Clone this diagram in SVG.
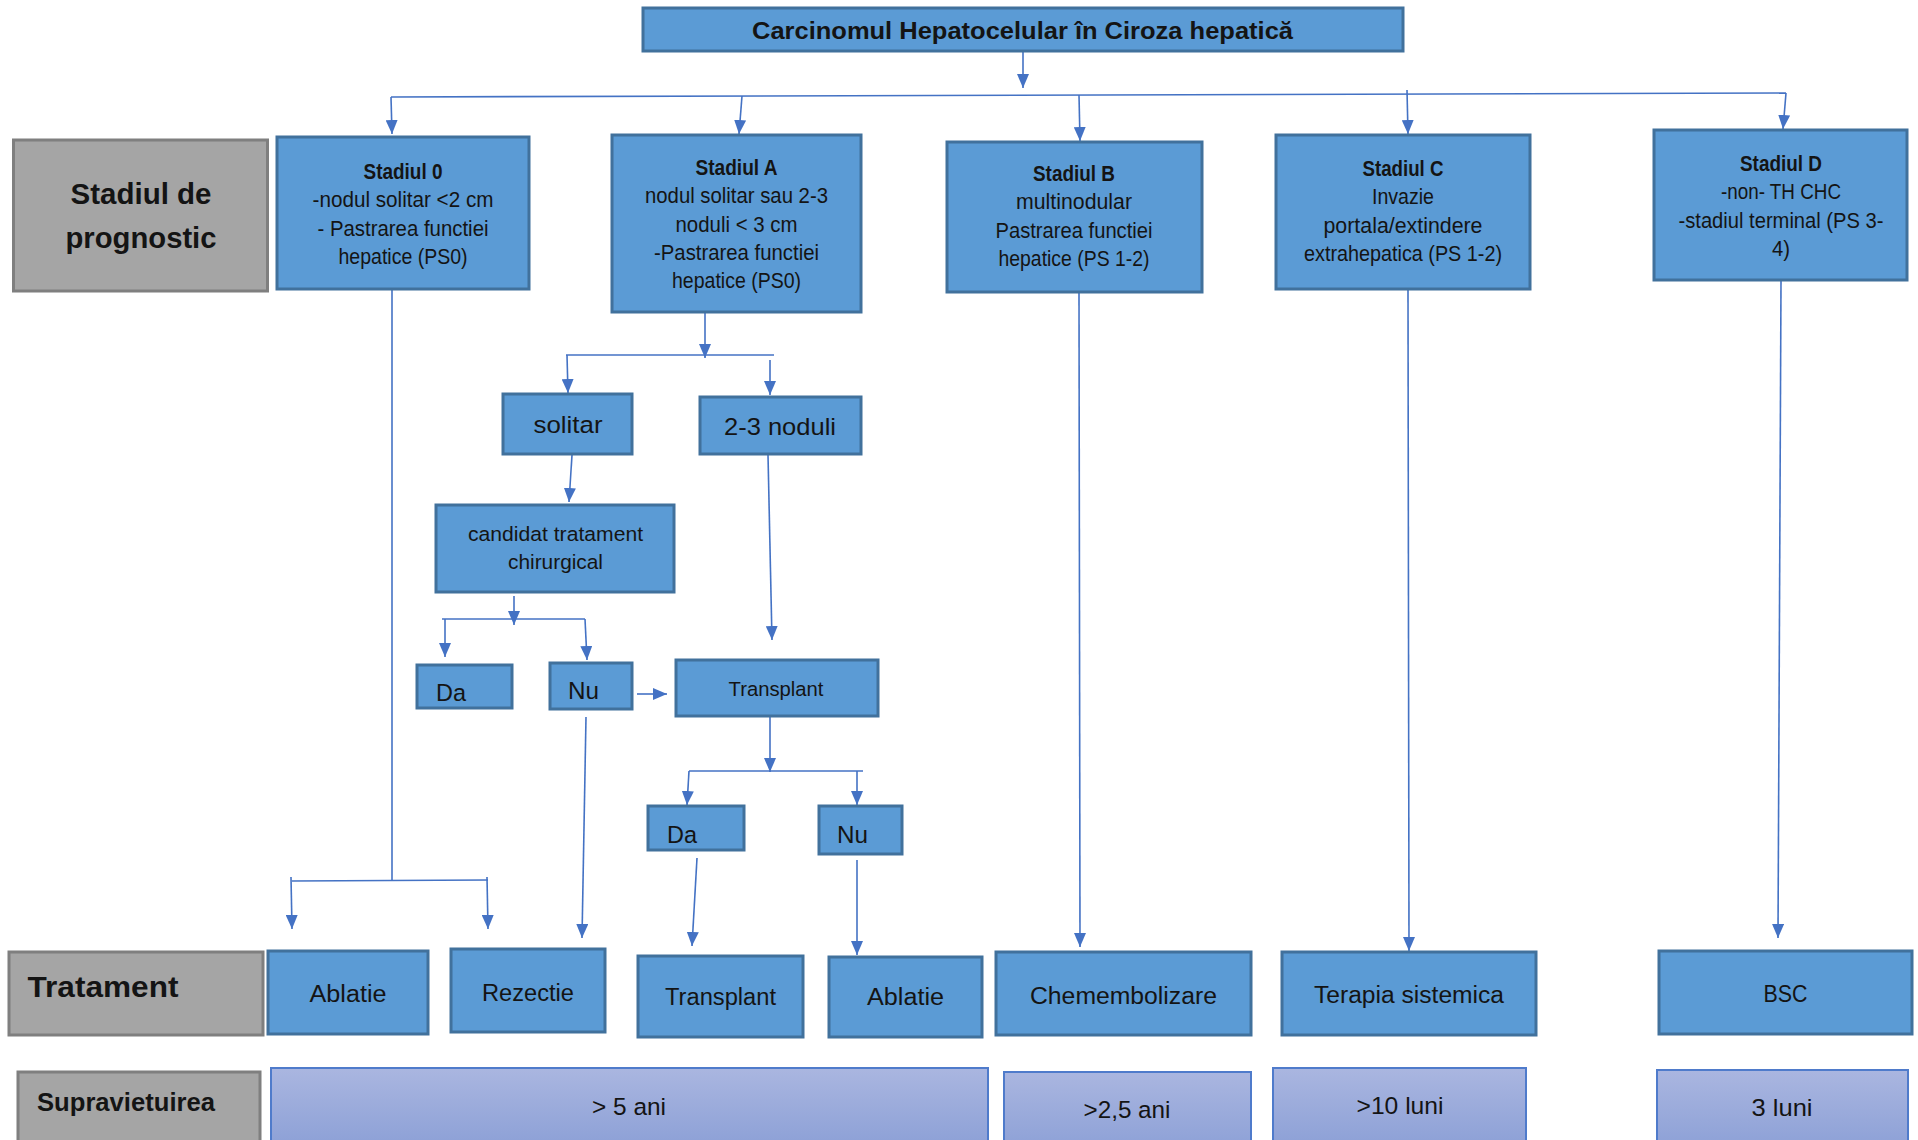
<svg xmlns="http://www.w3.org/2000/svg" width="1918" height="1140" viewBox="0 0 1918 1140">
  <defs>
    <marker id="arrow" markerUnits="userSpaceOnUse" markerWidth="14" markerHeight="12" refX="14" refY="6" orient="auto">
      <path d="M0,0 L14,6 L0,12 Z" fill="#4472C4"/>
    </marker>
    <linearGradient id="surv" x1="0" y1="0" x2="0" y2="1">
      <stop offset="0" stop-color="#AAB6E0"/>
      <stop offset="1" stop-color="#889DD5"/>
    </linearGradient>
  </defs>
  <style>
    .blue { fill: #5B9BD5; stroke: #41719C; stroke-width: 3; }
    .gray { fill: #A5A5A5; stroke: #7F7F7F; stroke-width: 3; }
    .surv { fill: url(#surv); stroke: #4F7BCB; stroke-width: 2; }
    text { font-family: "Liberation Sans", Arial, sans-serif; fill: #141414; }
    .c { text-anchor: middle; }
    .b { font-weight: bold; }
    .s20 { font-size: 20.5px; }
    .s21 { font-size: 21.5px; }
    .s23 { font-size: 23.5px; }
    .s24 { font-size: 24.5px; }
    .s25 { font-size: 25px; }
    .s30 { font-size: 30px; }
    .conn line { stroke: #4472C4; stroke-width: 1.6; fill: none; }
    .conn .a { marker-end: url(#arrow); }
  </style>

  <!-- connectors -->
  <g id="connectors" class="conn">
    <line class="a" x1="1023" y1="52" x2="1023" y2="88"/>
    <line x1="391" y1="97" x2="1786" y2="93"/>
    <line class="a" x1="391" y1="97" x2="392" y2="134"/>
    <line class="a" x1="742" y1="96" x2="739" y2="134"/>
    <line class="a" x1="1079" y1="95" x2="1080" y2="141"/>
    <line class="a" x1="1407" y1="90" x2="1408" y2="134"/>
    <line class="a" x1="1786" y1="93" x2="1783" y2="129"/>

    <line class="a" x1="705" y1="312" x2="705" y2="358"/>
    <line x1="566" y1="355" x2="774" y2="355"/>
    <line class="a" x1="567" y1="355" x2="568" y2="393"/>
    <line class="a" x1="770" y1="360" x2="770" y2="395"/>

    <line class="a" x1="572" y1="455" x2="569" y2="502"/>
    <line class="a" x1="768" y1="455" x2="772" y2="640"/>

    <line class="a" x1="514" y1="596" x2="514" y2="625"/>
    <line x1="442" y1="619" x2="585" y2="619"/>
    <line class="a" x1="445" y1="619" x2="445" y2="657"/>
    <line class="a" x1="585" y1="619" x2="587" y2="660"/>

    <line class="a" x1="637" y1="694" x2="667" y2="694"/>
    <line class="a" x1="586" y1="717" x2="582" y2="938"/>

    <line class="a" x1="770" y1="717" x2="770" y2="772"/>
    <line x1="689" y1="771" x2="863" y2="771"/>
    <line class="a" x1="689" y1="771" x2="687" y2="805"/>
    <line class="a" x1="857" y1="771" x2="857" y2="805"/>

    <line class="a" x1="697" y1="858" x2="692" y2="946"/>
    <line class="a" x1="857" y1="860" x2="857" y2="955"/>

    <line x1="392" y1="290" x2="392" y2="881"/>
    <line x1="292" y1="881" x2="488" y2="880"/>
    <line class="a" x1="291" y1="877" x2="292" y2="929"/>
    <line class="a" x1="487" y1="877" x2="488" y2="929"/>

    <line class="a" x1="1079" y1="293" x2="1080" y2="947"/>
    <line class="a" x1="1408" y1="289" x2="1409" y2="951"/>
    <line class="a" x1="1781" y1="281" x2="1778" y2="938"/>
  </g>

  <!-- header -->
  <g id="title">
    <rect class="blue" x="643" y="8" width="760" height="43"/>
    <text class="c b s23" x="1022.5" y="39" textLength="541" lengthAdjust="spacingAndGlyphs">Carcinomul Hepatocelular în Ciroza hepatică</text>
  </g>

  <!-- row labels -->
  <g id="label-prognostic">
    <rect class="gray" x="13.5" y="140" width="254" height="151"/>
    <text class="c b s30" x="141" y="204" textLength="141" lengthAdjust="spacingAndGlyphs">Stadiul de</text>
    <text class="c b s30" x="141" y="248" textLength="151" lengthAdjust="spacingAndGlyphs">prognostic</text>
  </g>
  <g id="label-tratament">
    <rect class="gray" x="9" y="952" width="254" height="83"/>
    <text class="b s30" x="27.5" y="997" textLength="151" lengthAdjust="spacingAndGlyphs">Tratament</text>
  </g>
  <g id="label-supravietuirea">
    <rect class="gray" x="18" y="1072" width="242" height="90"/>
    <text class="b s25" x="37" y="1111" textLength="178" lengthAdjust="spacingAndGlyphs">Supravietuirea</text>
  </g>

  <!-- stages -->
  <g id="stadiul-0">
    <rect class="blue" x="277" y="137" width="252" height="152"/>
    <text class="c b s21" x="403" y="179" textLength="79" lengthAdjust="spacingAndGlyphs">Stadiul 0</text>
    <text class="c s21" x="403" y="207" textLength="181" lengthAdjust="spacingAndGlyphs">-nodul solitar &lt;2 cm</text>
    <text class="c s21" x="403" y="236" textLength="171" lengthAdjust="spacingAndGlyphs">- Pastrarea functiei</text>
    <text class="c s21" x="403" y="264" textLength="129" lengthAdjust="spacingAndGlyphs">hepatice (PS0)</text>
  </g>
  <g id="stadiul-a">
    <rect class="blue" x="612" y="135" width="249" height="177"/>
    <text class="c b s21" x="736.5" y="175" textLength="82" lengthAdjust="spacingAndGlyphs">Stadiul A</text>
    <text class="c s21" x="736.5" y="203" textLength="183" lengthAdjust="spacingAndGlyphs">nodul solitar sau 2-3</text>
    <text class="c s21" x="736.5" y="231.5" textLength="122" lengthAdjust="spacingAndGlyphs">noduli &lt; 3 cm</text>
    <text class="c s21" x="736.5" y="260" textLength="165" lengthAdjust="spacingAndGlyphs">-Pastrarea functiei</text>
    <text class="c s21" x="736.5" y="288" textLength="129" lengthAdjust="spacingAndGlyphs">hepatice (PS0)</text>
  </g>
  <g id="stadiul-b">
    <rect class="blue" x="947" y="142" width="255" height="150"/>
    <text class="c b s21" x="1074" y="181" textLength="82" lengthAdjust="spacingAndGlyphs">Stadiul B</text>
    <text class="c s21" x="1074" y="209" textLength="116" lengthAdjust="spacingAndGlyphs">multinodular</text>
    <text class="c s21" x="1074" y="238" textLength="157" lengthAdjust="spacingAndGlyphs">Pastrarea functiei</text>
    <text class="c s21" x="1074" y="266" textLength="151" lengthAdjust="spacingAndGlyphs">hepatice (PS 1-2)</text>
  </g>
  <g id="stadiul-c">
    <rect class="blue" x="1276" y="135" width="254" height="154"/>
    <text class="c b s21" x="1403" y="176" textLength="81" lengthAdjust="spacingAndGlyphs">Stadiul C</text>
    <text class="c s21" x="1403" y="204" textLength="62" lengthAdjust="spacingAndGlyphs">Invazie</text>
    <text class="c s21" x="1403" y="233" textLength="159" lengthAdjust="spacingAndGlyphs">portala/extindere</text>
    <text class="c s21" x="1403" y="261" textLength="198" lengthAdjust="spacingAndGlyphs">extrahepatica (PS 1-2)</text>
  </g>
  <g id="stadiul-d">
    <rect class="blue" x="1654" y="130" width="253" height="150"/>
    <text class="c b s21" x="1781" y="171" textLength="82" lengthAdjust="spacingAndGlyphs">Stadiul D</text>
    <text class="c s21" x="1781" y="199" textLength="120" lengthAdjust="spacingAndGlyphs">-non- TH CHC</text>
    <text class="c s21" x="1781" y="228" textLength="205" lengthAdjust="spacingAndGlyphs">-stadiul terminal (PS 3-</text>
    <text class="c s21" x="1781" y="256" textLength="18" lengthAdjust="spacingAndGlyphs">4)</text>
  </g>

  <!-- stage A decision branch -->
  <g id="solitar">
    <rect class="blue" x="503" y="394" width="129" height="60"/>
    <text class="c s24" x="568" y="433" textLength="69" lengthAdjust="spacingAndGlyphs">solitar</text>
  </g>
  <g id="noduli">
    <rect class="blue" x="700" y="397" width="161" height="57"/>
    <text class="c s24" x="780" y="435" textLength="112" lengthAdjust="spacingAndGlyphs">2-3 noduli</text>
  </g>
  <g id="candidat">
    <rect class="blue" x="436" y="505" width="238" height="87"/>
    <text class="c s20" x="555.5" y="541" textLength="175" lengthAdjust="spacingAndGlyphs">candidat tratament</text>
    <text class="c s20" x="555.5" y="569" textLength="95" lengthAdjust="spacingAndGlyphs">chirurgical</text>
  </g>
  <g id="da-1">
    <rect class="blue" x="417" y="665" width="95" height="43"/>
    <text class="s24" x="436" y="701" textLength="30" lengthAdjust="spacingAndGlyphs">Da</text>
  </g>
  <g id="nu-1">
    <rect class="blue" x="550" y="663" width="82" height="46"/>
    <text class="s24" x="568" y="699" textLength="31" lengthAdjust="spacingAndGlyphs">Nu</text>
  </g>
  <g id="transplant-decizie">
    <rect class="blue" x="676" y="660" width="202" height="56"/>
    <text class="c s20" x="776" y="696" textLength="95" lengthAdjust="spacingAndGlyphs">Transplant</text>
  </g>
  <g id="da-2">
    <rect class="blue" x="648" y="806" width="96" height="44"/>
    <text class="s24" x="667" y="843" textLength="30" lengthAdjust="spacingAndGlyphs">Da</text>
  </g>
  <g id="nu-2">
    <rect class="blue" x="819" y="806" width="83" height="48"/>
    <text class="s24" x="837" y="843" textLength="31" lengthAdjust="spacingAndGlyphs">Nu</text>
  </g>

  <!-- treatments -->
  <g id="ablatie-1">
    <rect class="blue" x="268" y="951" width="160" height="83"/>
    <text class="c s23" x="348" y="1002" textLength="77" lengthAdjust="spacingAndGlyphs">Ablatie</text>
  </g>
  <g id="rezectie">
    <rect class="blue" x="451" y="949" width="154" height="83"/>
    <text class="c s23" x="528" y="1001" textLength="92" lengthAdjust="spacingAndGlyphs">Rezectie</text>
  </g>
  <g id="transplant">
    <rect class="blue" x="638" y="956" width="165" height="81"/>
    <text class="c s23" x="720.5" y="1005" textLength="111" lengthAdjust="spacingAndGlyphs">Transplant</text>
  </g>
  <g id="ablatie-2">
    <rect class="blue" x="829" y="957" width="153" height="80"/>
    <text class="c s23" x="905.5" y="1005" textLength="77" lengthAdjust="spacingAndGlyphs">Ablatie</text>
  </g>
  <g id="chemembolizare">
    <rect class="blue" x="996" y="952" width="255" height="83"/>
    <text class="c s23" x="1123.5" y="1004" textLength="187" lengthAdjust="spacingAndGlyphs">Chemembolizare</text>
  </g>
  <g id="terapia-sistemica">
    <rect class="blue" x="1282" y="952" width="254" height="83"/>
    <text class="c s23" x="1409" y="1003" textLength="190" lengthAdjust="spacingAndGlyphs">Terapia sistemica</text>
  </g>
  <g id="bsc">
    <rect class="blue" x="1659" y="951" width="253" height="83"/>
    <text class="c s23" x="1785.5" y="1002" textLength="44" lengthAdjust="spacingAndGlyphs">BSC</text>
  </g>

  <!-- survival -->
  <g id="surv-5-ani">
    <rect class="surv" x="271" y="1068" width="717" height="90"/>
    <text class="c s24" x="629" y="1115" textLength="74" lengthAdjust="spacingAndGlyphs">&gt; 5 ani</text>
  </g>
  <g id="surv-2-5-ani">
    <rect class="surv" x="1004" y="1072" width="247" height="90"/>
    <text class="c s24" x="1127" y="1118" textLength="87" lengthAdjust="spacingAndGlyphs">&gt;2,5 ani</text>
  </g>
  <g id="surv-10-luni">
    <rect class="surv" x="1273" y="1068" width="253" height="90"/>
    <text class="c s24" x="1400" y="1114" textLength="87" lengthAdjust="spacingAndGlyphs">&gt;10 luni</text>
  </g>
  <g id="surv-3-luni">
    <rect class="surv" x="1657" y="1070" width="251" height="90"/>
    <text class="c s24" x="1782" y="1116" textLength="61" lengthAdjust="spacingAndGlyphs">3 luni</text>
  </g>
</svg>
